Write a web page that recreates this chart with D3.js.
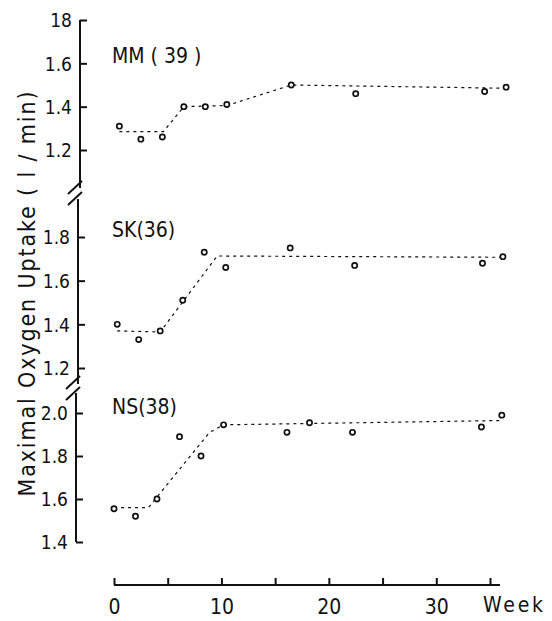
<!DOCTYPE html>
<html>
  <head>
    <meta charset="utf-8">
    <title>Maximal oxygen uptake</title>
    <style>
      body { margin: 0; background: #fff; }
      svg text { font-family: "DejaVu Sans Condensed", "Liberation Sans", sans-serif; fill: #111; }
      .fit { fill: none; stroke: #111; stroke-width: 1.2; stroke-dasharray: 3,4; }
      .pt { fill: #fff; stroke: #111; stroke-width: 1.7; }
      .ax { stroke: #111; stroke-width: 2; fill: none; }
    </style>
  </head>
  <body>
    <div id="chart"></div>
    <script src="https://d3js.org/d3.v7.min.js"></script>
    <script>
      (function(d3) {
        'use strict';

        // MM (39)
        var weeksMM = [0.5, 2.5, 4.5, 6.5, 8.5, 10.5, 16.5, 22.5, 34.5, 36.5];
        var valuesMM = [1.31, 1.25, 1.26, 1.40, 1.40, 1.41, 1.50, 1.46, 1.47, 1.49];
        var fitWeeksMM = [0.5, 4.6, 6.5, 10.5, 16.5, 36.5];
        var fitValuesMM = [1.285, 1.285, 1.40, 1.405, 1.50, 1.485];

        // SK (36)
        var weeksSK = [0.3, 2.3, 4.3, 6.4, 8.4, 10.4, 16.4, 22.4, 34.3, 36.2];
        var valuesSK = [1.40, 1.33, 1.37, 1.51, 1.73, 1.66, 1.75, 1.67, 1.68, 1.71];
        var fitWeeksSK = [0.3, 4.3, 9.6, 36.2];
        var fitValuesSK = [1.37, 1.365, 1.713, 1.707];

        // NS (38)
        var weeksNS = [0, 2, 4, 6.1, 8.1, 10.2, 16.1, 18.2, 22.2, 34.2, 36.1];
        var valuesNS = [1.555, 1.52, 1.60, 1.89, 1.80, 1.945, 1.91, 1.955, 1.91, 1.935, 1.99];
        var fitWeeksNS = [0, 3.2, 8.9, 10.2, 36.1];
        var fitValuesNS = [1.56, 1.56, 1.91, 1.945, 1.965];

        var ticksMM = [1.2, 1.4, 1.6, 1.8];
        var tickLabelsMM = ['1.2', '1.4', '1.6', '18'];
        var ticksSK = [1.2, 1.4, 1.6, 1.8];
        var tickLabelsSK = ['1.2', '1.4', '1.6', '1.8'];
        var ticksNS = [1.4, 1.6, 1.8, 2.0];
        var tickLabelsNS = ['1.4', '1.6', '1.8', '2.0'];

        var weekTicks = [0, 5, 10, 15, 20, 25, 30, 35];
        var weekLabels = ['0', '', '10', '', '20', '', '30', ''];

        var width = 552, height = 621;

        var svg = d3.select('#chart').append('svg')
          .attr('width', width)
          .attr('height', height);

        var x = d3.scaleLinear().domain([0, 35]).range([114, 490]);

        var panels = [
          { name: 'MM ( 39 )', weeks: weeksMM, values: valuesMM, fw: fitWeeksMM, fv: fitValuesMM,
            ticks: ticksMM, labels: tickLabelsMM, domain: [1.2, 1.8], range: [150, 20],
            axX: 80, top: 20, bottom: 188, nameY: 63 },
          { name: 'SK(36)', weeks: weeksSK, values: valuesSK, fw: fitWeeksSK, fv: fitValuesSK,
            ticks: ticksSK, labels: tickLabelsSK, domain: [1.2, 1.8], range: [368, 237],
            axX: 78, top: 199, bottom: 384, nameY: 237 },
          { name: 'NS(38)', weeks: weeksNS, values: valuesNS, fw: fitWeeksNS, fv: fitValuesNS,
            ticks: ticksNS, labels: tickLabelsNS, domain: [1.4, 2.0], range: [542, 413],
            axX: 76, top: 393, bottom: 542, nameY: 414 }
        ];

        panels.forEach(function(p) {
          var y = d3.scaleLinear().domain(p.domain).range(p.range);

          // vertical axis line
          svg.append('line').attr('class', 'ax')
            .attr('x1', p.axX).attr('x2', p.axX)
            .attr('y1', p.top).attr('y2', p.bottom);

          var g = svg.append('g').attr('transform', 'translate(' + p.axX + ',0)');
          g.call(d3.axisLeft(y)
            .tickValues(p.ticks)
            .tickSize(-7)
            .tickPadding(8)
            .tickFormat(function(d, i) { return p.labels[i]; }));
          g.select('.domain').remove();
          g.selectAll('.tick line').attr('stroke', '#111').attr('stroke-width', 2);
          g.selectAll('.tick text')
            .attr('font-family', null)
            .style('font-size', '19px')
            .attr('dy', '0.36em');

          svg.append('text')
            .attr('x', 112)
            .attr('y', p.nameY)
            .style('font-size', '21px')
            .text(p.name);

          var line = d3.line()
            .x(function(d) { return x(d[0]); })
            .y(function(d) { return y(d[1]); });

          svg.append('path')
            .attr('class', 'fit')
            .attr('d', line(d3.zip(p.fw, p.fv)));

          svg.append('g').selectAll('circle')
            .data(d3.zip(p.weeks, p.values))
            .enter()
            .append('circle')
            .attr('class', 'pt')
            .attr('cx', function(d) { return x(d[0]); })
            .attr('cy', function(d) { return y(d[1]); })
            .attr('r', 2.6);
        });

        // axis breaks
        [[79, 193], [77, 388]].forEach(function(b) {
          [-6, 5].forEach(function(off) {
            svg.append('line').attr('class', 'ax')
              .attr('stroke-width', 1.6)
              .attr('x1', b[0] - 11).attr('y1', b[1] + off + 7)
              .attr('x2', b[0] + 3).attr('y2', b[1] + off - 6);
          });
        });

        // week axis
        var xg = svg.append('g').attr('transform', 'translate(0,585)');
        xg.call(d3.axisBottom(x)
          .tickValues(weekTicks)
          .tickSize(-7)
          .tickPadding(14)
          .tickFormat(function(d, i) { return weekLabels[i]; }));
        xg.select('.domain').remove();
        xg.selectAll('.tick line').attr('stroke', '#111').attr('stroke-width', 2);
        xg.selectAll('.tick text')
          .attr('font-family', null)
          .style('font-size', '21px')
          .attr('dy', '0.71em');
        xg.append('line').attr('class', 'ax')
          .attr('x1', x(0)).attr('x2', x(35) + 10)
          .attr('y1', 0).attr('y2', 0);

        svg.append('text')
          .attr('x', 483)
          .attr('y', 612)
          .style('font-size', '21px')
          .attr('textLength', 60)
          .text('Week');

        // y axis title
        svg.append('text')
          .attr('transform', 'translate(35,294) rotate(-90)')
          .attr('text-anchor', 'middle')
          .style('font-size', '23px')
          .attr('textLength', 405)
          .attr('lengthAdjust', 'spacing')
          .text('Maximal Oxygen Uptake ( l / min)');
      })(window.d3);
    </script>
  </body>
</html>
